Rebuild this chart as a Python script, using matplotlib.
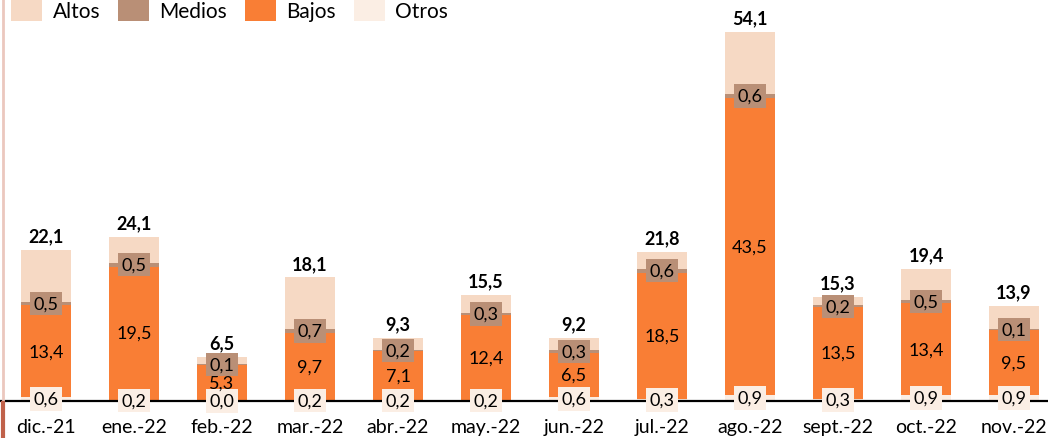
import matplotlib.pyplot as plt
import numpy as np
from matplotlib.lines import Line2D

plt.rcParams["font.family"] = ["Lato", "DejaVu Sans"]

# data (millones)
meses = ["dic.-21", "ene.-22", "feb.-22", "mar.-22", "abr.-22", "may.-22",
         "jun.-22", "jul.-22", "ago.-22", "sept.-22", "oct.-22", "nov.-22"]
totales = [22.1, 24.1, 6.5, 18.1, 9.3, 15.5, 9.2, 21.8, 54.1, 15.3, 19.4, 13.9]
otros = [0.6, 0.2, 0.0, 0.2, 0.2, 0.2, 0.6, 0.3, 0.9, 0.3, 0.9, 0.9]
bajos = [13.4, 19.5, 5.3, 9.7, 7.1, 12.4, 6.5, 18.5, 43.5, 13.5, 13.4, 9.5]
medios = [0.5, 0.5, 0.1, 0.7, 0.2, 0.3, 0.3, 0.6, 0.6, 0.2, 0.5, 0.1]
# altos is what is left up to the total
altos = list(np.round(np.array(totales) - np.array(otros) - np.array(bajos) - np.array(medios), 1))

c_altos = "#F6D9C4"
c_medios = "#B98F76"
c_bajos = "#F97E35"
c_otros = "#FBEEE4"

def coma(v):
    return "{:.1f}".format(v).replace(".", ",")

fig = plt.figure(figsize=(10.48, 4.39), dpi=100)
ax = fig.add_axes([0, 37 / 439, 1, 402 / 439])

x = np.arange(len(meses))
w = 0.56
b1 = np.array(otros)
b2 = b1 + np.array(bajos)
b3 = b2 + np.array(medios)

bar_o = ax.bar(x, otros, w, color=c_otros, label="Otros")
bar_b = ax.bar(x, bajos, w, bottom=b1, color=c_bajos, label="Bajos")
bar_m = ax.bar(x, medios, w, bottom=b2, color=c_medios, label="Medios")
bar_a = ax.bar(x, altos, w, bottom=b3, color=c_altos, label="Altos")

fs = 13
ax.bar_label(bar_o, labels=[coma(v) for v in otros], label_type="center", fontsize=fs,
             bbox=dict(boxstyle="square,pad=0.2", fc=c_otros, ec="none"))
ax.bar_label(bar_b, labels=[coma(v) for v in bajos], label_type="center", fontsize=fs)
ax.bar_label(bar_m, labels=[coma(v) for v in medios], label_type="center", fontsize=fs,
             bbox=dict(boxstyle="square,pad=0.2", fc=c_medios, ec="none"))
ax.bar_label(bar_a, labels=[coma(v) for v in totales], padding=4, fontsize=fs,
             fontweight="bold")

ax.set_xlim(-0.523, 11.386)
ax.set_ylim(0, 58.9)
ax.set_xticks(x)
ax.set_xticklabels(meses, fontsize=14)
ax.tick_params(axis="x", length=0, pad=12)
ax.set_yticks([])
for s in ["top", "right", "left"]:
    ax.spines[s].set_visible(False)
ax.spines["bottom"].set_linewidth(1.6)
ax.spines["bottom"].set_color("black")

# legend on top, in the order of the original
h = [bar_a, bar_m, bar_b, bar_o]
fig.legend(h, ["Altos", "Medios", "Bajos", "Otros"], loc="center left",
           bbox_to_anchor=(11 / 1048, 1 - 11 / 439), ncol=4, frameon=False,
           fontsize=15, handlelength=1.49, handleheight=1.3, handletextpad=0.5,
           columnspacing=0.85, borderpad=0, borderaxespad=0)

# slide border on the left
fig.add_artist(Line2D([0.003, 0.003], [0.08, 1], transform=fig.transFigure,
                      color="#EBC8BE", lw=2))
fig.add_artist(Line2D([0.003, 0.003], [0, 0.08], transform=fig.transFigure,
                      color="#C0614A", lw=3))

plt.savefig("out.png", dpi=100)
